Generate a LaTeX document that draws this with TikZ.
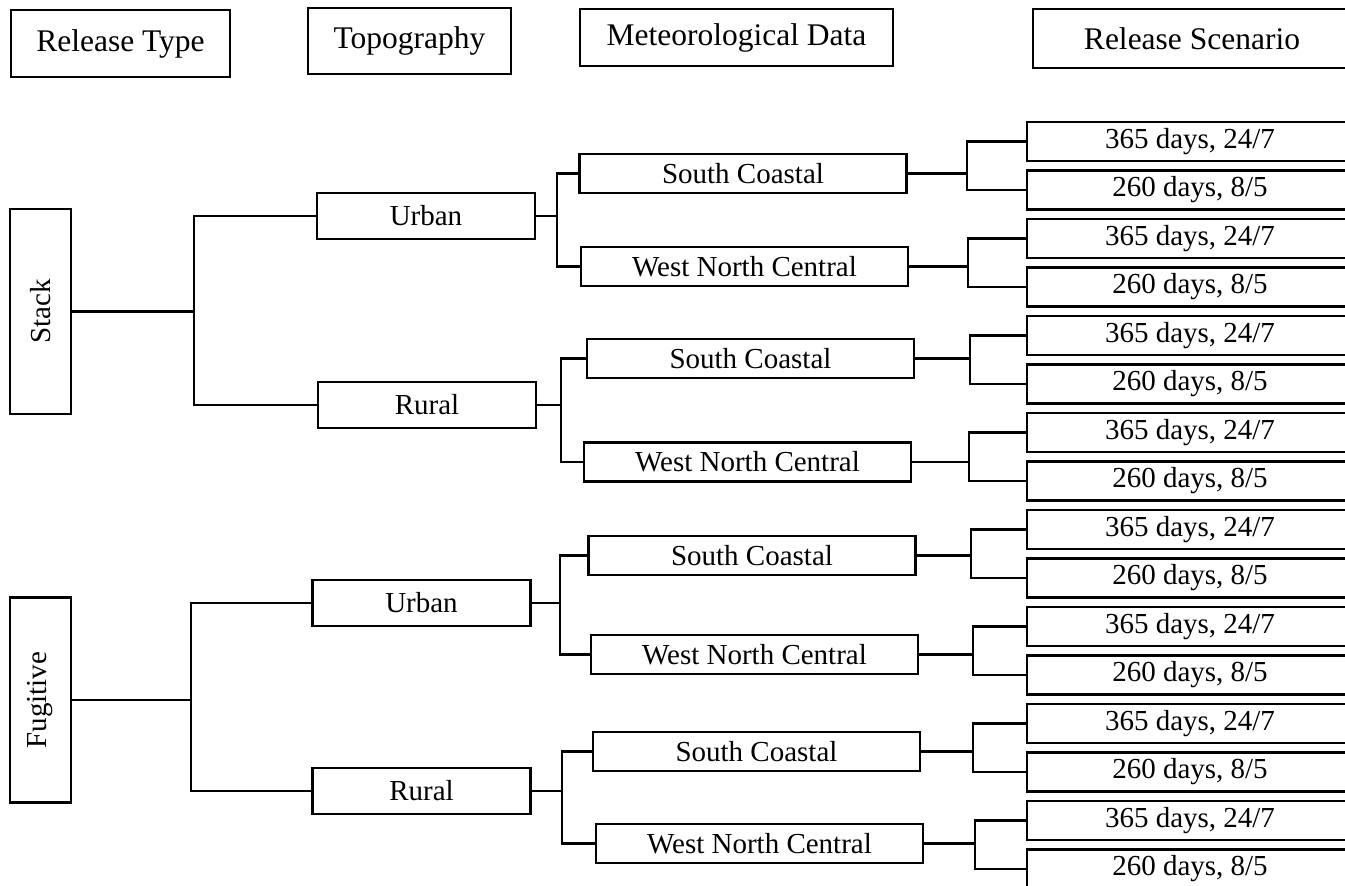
\documentclass[tikz,border=0pt]{standalone}
\usepackage{fontspec}
\setmainfont{Liberation Serif}
\usetikzlibrary{positioning,calc}

\begin{document}
\begin{tikzpicture}[
  x=1pt, y=-1pt,
  hdr/.style={draw, line width=1.4pt, inner sep=0pt, font=\fontsize{31.5}{36}\selectfont},
  box/.style={draw, line width=2.6pt, inner sep=0pt, font=\fontsize{29}{33}\selectfont},
  typebox/.style={box, minimum width=61pt, minimum height=205pt},
  topobox/.style={box, minimum width=218pt, minimum height=46pt},
  metbox/.style={box, minimum width=327pt, minimum height=39pt},
  scenbox/.style={box, minimum width=326pt, minimum height=39pt},
  link/.style={line width=2.6pt},
]
\useasboundingbox (0,0) rectangle (1345,886);
\clip (0,0) rectangle (1345,886);

%------------------- Header row -------------------
\node (hType) [hdr, minimum width=219pt, minimum height=67pt] at (120.5,43.5) {Release Type};
\node (hTopo) [hdr, minimum width=203pt, minimum height=66pt] at (409.5,41) {Topography};
\node (hMet)  [hdr, minimum width=313pt, minimum height=57pt] at (736.5,37.5) {Meteorological Data};
\node (hScen) [hdr, minimum width=318pt, minimum height=59pt] at (1192,38.5) {Release Scenario};

%------------------- Release type -------------------
\node (stack)    [typebox] at (40.5,311.5) {\rotatebox{90}{Stack}};
\node (fugitive) [typebox] at (40.5,700) {\rotatebox{90}{Fugitive}};

%------------------- Topography -------------------
\node (urbanS) [topobox] at (426,216) {Urban};
\node (ruralS) [topobox] at (427,405) {Rural};
\node (urbanF) [topobox] at (421.5,603) {Urban};
\node (ruralF) [topobox] at (421.5,791) {Rural};

%------------------- Meteorological data -------------------
\node (scUS) [metbox] at (743,173.5) {South Coastal};
\node (wnUS) [metbox] at (744.5,266.5) {West North Central};
\node (scRS) [metbox] at (750.5,358.5) {South Coastal};
\node (wnRS) [metbox] at (747.5,462) {West North Central};
\node (scUF) [metbox] at (752,555.5) {South Coastal};
\node (wnUF) [metbox] at (754.5,654.5) {West North Central};
\node (scRF) [metbox] at (756.5,751.5) {South Coastal};
\node (wnRF) [metbox] at (759.5,843.5) {West North Central};

%------------------- Release scenario -------------------
\node (r1)  [scenbox] at (1190,141.5) {365 days, 24/7};
\node (r2)  [scenbox] at (1190,190)   {260 days, 8/5};
\node (r3)  [scenbox] at (1190,238.5) {365 days, 24/7};
\node (r4)  [scenbox] at (1190,287)   {260 days, 8/5};
\node (r5)  [scenbox] at (1190,335.5) {365 days, 24/7};
\node (r6)  [scenbox] at (1190,384)   {260 days, 8/5};
\node (r7)  [scenbox] at (1190,432.5) {365 days, 24/7};
\node (r8)  [scenbox] at (1190,481)   {260 days, 8/5};
\node (r9)  [scenbox] at (1190,529.5) {365 days, 24/7};
\node (r10) [scenbox] at (1190,578)   {260 days, 8/5};
\node (r11) [scenbox] at (1190,626.5) {365 days, 24/7};
\node (r12) [scenbox] at (1190,675)   {260 days, 8/5};
\node (r13) [scenbox] at (1190,723.5) {365 days, 24/7};
\node (r14) [scenbox] at (1190,772)   {260 days, 8/5};
\node (r15) [scenbox] at (1190,820.5) {365 days, 24/7};
\node (r16) [scenbox] at (1190,869)   {260 days, 8/5};

%------------------- Branch points -------------------
\coordinate (jS)  at (194,0 |- stack.east);
\coordinate (jF)  at (191,0 |- fugitive.east);
\coordinate (jUS) at (557,0 |- urbanS.east);
\coordinate (jRS) at (561,0 |- ruralS.east);
\coordinate (jUF) at (560,0 |- urbanF.east);
\coordinate (jRF) at (562,0 |- ruralF.east);
\coordinate (jscUS) at (967,0 |- scUS.east);
\coordinate (jwnUS) at (968,0 |- wnUS.east);
\coordinate (jscRS) at (970,0 |- scRS.east);
\coordinate (jwnRS) at (969,0 |- wnRS.east);
\coordinate (jscUF) at (971,0 |- scUF.east);
\coordinate (jwnUF) at (973,0 |- wnUF.east);
\coordinate (jscRF) at (973,0 |- scRF.east);
\coordinate (jwnRF) at (975,0 |- wnRF.east);

%------------------- Connectors -------------------
\draw[link] (stack.east) -- (jS);
\draw[link] (urbanS.west) -| (jS) |- (ruralS.west);
\draw[link] (fugitive.east) -- (jF);
\draw[link] (urbanF.west) -| (jF) |- (ruralF.west);

\draw[link] (urbanS.east) -- (jUS);
\draw[link] (scUS.west) -| (jUS) |- (wnUS.west);
\draw[link] (ruralS.east) -- (jRS);
\draw[link] (scRS.west) -| (jRS) |- (wnRS.west);
\draw[link] (urbanF.east) -- (jUF);
\draw[link] (scUF.west) -| (jUF) |- (wnUF.west);
\draw[link] (ruralF.east) -- (jRF);
\draw[link] (scRF.west) -| (jRF) |- (wnRF.west);

\draw[link] (scUS.east) -- (jscUS);
\draw[link] (r1.west) -| (jscUS) |- (r2.west);
\draw[link] (wnUS.east) -- (jwnUS);
\draw[link] (r3.west) -| (jwnUS) |- (r4.west);
\draw[link] (scRS.east) -- (jscRS);
\draw[link] (r5.west) -| (jscRS) |- (r6.west);
\draw[link] (wnRS.east) -- (jwnRS);
\draw[link] (r7.west) -| (jwnRS) |- (r8.west);
\draw[link] (scUF.east) -- (jscUF);
\draw[link] (r9.west) -| (jscUF) |- (r10.west);
\draw[link] (wnUF.east) -- (jwnUF);
\draw[link] (r11.west) -| (jwnUF) |- (r12.west);
\draw[link] (scRF.east) -- (jscRF);
\draw[link] (r13.west) -| (jscRF) |- (r14.west);
\draw[link] (wnRF.east) -- (jwnRF);
\draw[link] (r15.west) -| (jwnRF) |- (r16.west);

\end{tikzpicture}
\end{document}
